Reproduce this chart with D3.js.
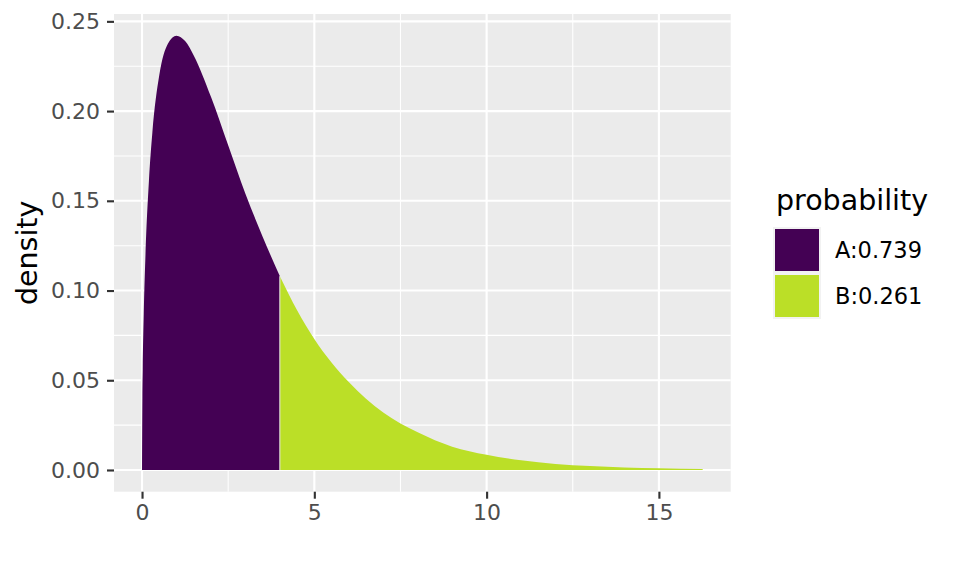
<!DOCTYPE html>
<html>
<head>
<meta charset="utf-8">
<script src="https://cdn.jsdelivr.net/npm/d3@7"></script>
<style>
  body { margin: 0; background: #fff; }
  svg { font-family: "DejaVu Sans", sans-serif; }
</style>
</head>
<body>
<div id="chart"></div>
<script>
// values (density curve, split at x = 4)
const xValues = [0, 0.01, 0.02, 0.05, 0.1, 0.2, 0.3, 0.5, 0.75, 1, 1.25, 1.5, 2, 2.5, 3, 3.5, 4,
                 4.5, 5, 6, 7, 8, 9, 10, 11, 12, 13, 14, 15, 16.27];
const densityValues = [0, 0.040, 0.056, 0.087, 0.120, 0.161, 0.188, 0.220, 0.2375, 0.242, 0.239, 0.231, 0.208, 0.181, 0.154, 0.130, 0.108,
                       0.089, 0.073, 0.049, 0.032, 0.021, 0.013, 0.0085, 0.0054, 0.0034, 0.0022, 0.0014, 0.0009, 0.0005];
const cutAt = 4;
const groups = ["A:0.739", "B:0.261"];
const groupColors = ["#440154", "#BBDF27"];
const xTicks = [0, 5, 10, 15];
const xMinor = [2.5, 7.5, 12.5];
const yTicks = [0, 0.05, 0.10, 0.15, 0.20, 0.25];
const yMinor = [0.025, 0.075, 0.125, 0.175, 0.225];

const width = 960, height = 576;
const panel = { left: 114, right: 730.7, top: 14, bottom: 491.7 };

const points = xValues.map((x, i) => ({ x: x, y: densityValues[i] }));
const partA = points.filter(d => d.x <= cutAt);
const partB = points.filter(d => d.x >= cutAt);

// ggplot-like 5% expansion
const xMax = d3.max(xValues), yMax = d3.max(densityValues);
const x = d3.scaleLinear()
  .domain([-xMax * 0.05, xMax * 1.05])
  .range([panel.left, panel.right]);
const y = d3.scaleLinear()
  .domain([-yMax * 0.05, yMax * 1.05])
  .range([panel.bottom, panel.top]);

const svg = d3.select("#chart").append("svg")
  .attr("width", width)
  .attr("height", height);

// panel background
svg.append("rect")
  .attr("x", panel.left).attr("y", panel.top)
  .attr("width", panel.right - panel.left)
  .attr("height", panel.bottom - panel.top)
  .attr("fill", "#EBEBEB");

// grid lines
const grid = svg.append("g").attr("stroke", "#fff");
grid.selectAll(".xminor").data(xMinor).join("line")
  .attr("x1", d => x(d)).attr("x2", d => x(d))
  .attr("y1", panel.top).attr("y2", panel.bottom)
  .attr("stroke-width", 1.07);
grid.selectAll(".yminor").data(yMinor).join("line")
  .attr("y1", d => y(d)).attr("y2", d => y(d))
  .attr("x1", panel.left).attr("x2", panel.right)
  .attr("stroke-width", 1.07);
grid.selectAll(".xmajor").data(xTicks).join("line")
  .attr("x1", d => x(d)).attr("x2", d => x(d))
  .attr("y1", panel.top).attr("y2", panel.bottom)
  .attr("stroke-width", 2.13);
grid.selectAll(".ymajor").data(yTicks).join("line")
  .attr("y1", d => y(d)).attr("y2", d => y(d))
  .attr("x1", panel.left).attr("x2", panel.right)
  .attr("stroke-width", 2.13);

// the two shaded regions
const area = d3.area()
  .x(d => x(d.x))
  .y0(y(0))
  .y1(d => y(d.y))
  .curve(d3.curveMonotoneX);

svg.append("g")
  .selectAll("path")
  .data([partA, partB])
  .join("path")
  .attr("d", area)
  .attr("fill", (d, i) => groupColors[i]);

// thin light seam between regions
svg.append("line")
  .attr("x1", x(cutAt)).attr("x2", x(cutAt))
  .attr("y1", y(0)).attr("y2", y(densityValues[xValues.indexOf(cutAt)]))
  .attr("stroke", "#e6e6e6").attr("stroke-width", 1);

// axes
const xAxis = g => g
  .attr("transform", `translate(0,${panel.bottom})`)
  .call(d3.axisBottom(x).tickValues(xTicks).tickFormat(d3.format("d")).tickSize(7).tickPadding(6))
  .call(g => g.select(".domain").remove());
const yAxis = g => g
  .attr("transform", `translate(${panel.left},0)`)
  .call(d3.axisLeft(y).tickValues(yTicks).tickFormat(d3.format(".2f")).tickSize(7).tickPadding(7))
  .call(g => g.select(".domain").remove());

svg.append("g").call(xAxis);
svg.append("g").call(yAxis);
svg.selectAll(".tick line").attr("stroke", "#333").attr("stroke-width", 2.13);
svg.selectAll(".tick text")
  .attr("fill", "#4D4D4D")
  .style("font-size", "22px")
  .style("font-family", "DejaVu Sans, sans-serif");

// y axis title
svg.append("text")
  .attr("transform", `translate(37,${(panel.top + panel.bottom) / 2}) rotate(-90)`)
  .attr("text-anchor", "middle")
  .style("font-size", "28.5px")
  .attr("fill", "#000")
  .text("density");

// legend
const legend = svg.append("g").attr("transform", "translate(775,0)");
legend.append("text")
  .attr("x", 1).attr("y", 210)
  .style("font-size", "28.5px")
  .text("probability");

const keys = legend.selectAll(".key").data(groups).join("g")
  .attr("transform", (d, i) => `translate(0,${228 + i * 46})`);
keys.append("rect")
  .attr("x", -2).attr("y", -1)
  .attr("width", 48).attr("height", 46)
  .attr("fill", "#F2F2F2");
keys.append("rect")
  .attr("x", 0).attr("y", 1)
  .attr("width", 44).attr("height", 42)
  .attr("fill", (d, i) => groupColors[i]);
keys.append("text")
  .attr("x", 60).attr("y", 22 + 8)
  .style("font-size", "22.5px")
  .text(d => d);
</script>
</body>
</html>
